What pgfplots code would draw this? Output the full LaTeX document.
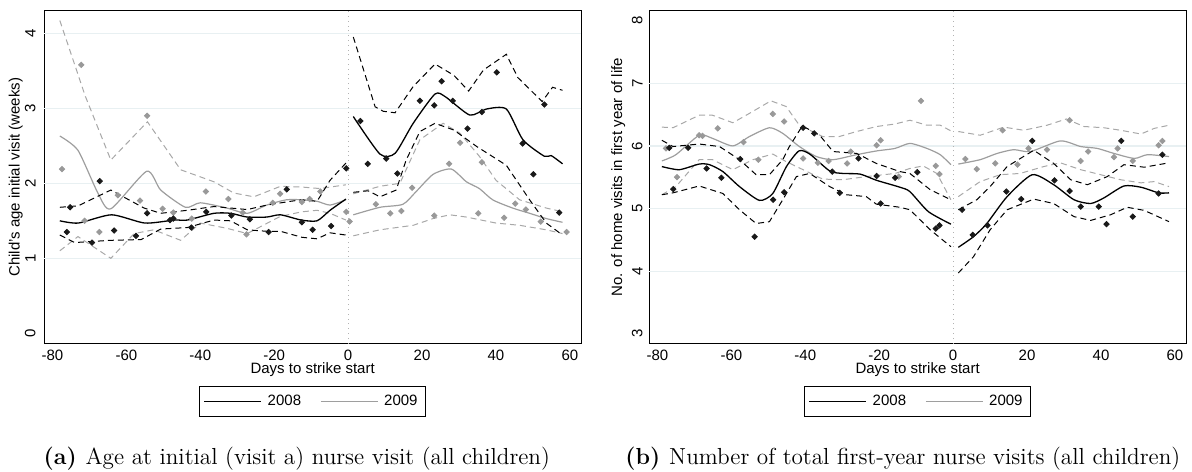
\documentclass[border=0pt]{standalone}
\usepackage{fontspec}
\setsansfont{Liberation Sans}
\usepackage{pgfplots}
\pgfplotsset{compat=1.18}

\definecolor{colpt08}{gray}{0.10}
\definecolor{colpt09}{gray}{0.60}
\definecolor{colfit09}{gray}{0.62}
\definecolor{colci09}{gray}{0.66}
\definecolor{gridc}{RGB}{232,240,242}

\pgfplotsset{
  panel/.style={
    scale only axis, width=268.35pt, height=166.15pt,
    xmin=-82.2, xmax=63,
    xtick={-80,-60,-40,-20,0,20,40,60},
    xticklabels={-80,-60,-40,-20,0,20,40,60},
    major tick length=0pt,
    axis line style={line width=0.5pt},
    tick label style={font=\sffamily\fontsize{7.5}{9}\selectfont},
    label style={font=\sffamily\fontsize{7.5}{9}\selectfont},
    yticklabel style={rotate=90, anchor=south},
    xlabel={Days to strike start},
    xlabel style={at={(axis description cs:0.5,0)}, anchor=center, yshift=-13pt},
    extra y tick style={grid=major, major grid style={gridc, line width=0.6pt}},
    legend columns=2,
    legend style={at={(0.5,-0.175)}, anchor=center, draw=black, line width=0.5pt,
      font=\sffamily\fontsize{7.5}{9}\selectfont, inner xsep=2pt, inner ysep=2pt,
      /tikz/column 1/.style={column sep=1pt},
      /tikz/column 2/.style={column sep=7.6pt},
      /tikz/column 3/.style={column sep=1pt}},
    legend image code/.code={\draw[#1] (0pt,0pt) -- (28.35pt,0pt);},
  },
  fit08/.style={black, line width=0.65pt, smooth, tension=0.4, forget plot},
  ci08/.style={black, line width=0.5pt, dash pattern=on 3pt off 2pt, forget plot},
  fit09/.style={colfit09, line width=0.6pt, smooth, tension=0.4, forget plot},
  ci09/.style={colci09, line width=0.5pt, dash pattern=on 3pt off 2pt, forget plot},
  pts08/.style={only marks, mark=square*, mark size=0.95pt, mark options={rotate=45}, colpt08, forget plot},
  pts09/.style={only marks, mark=square*, mark size=0.95pt, mark options={rotate=45}, colpt09, forget plot},
  zeroline/.style={gray!60, line width=0.4pt, dotted, forget plot},
}

\begin{document}
\begin{tikzpicture}
\path[use as bounding box] (0,0) rectangle (596pt,235.5pt);

% ---------------- Panel (a): age at initial visit ----------------
\begin{axis}[panel, at={(22.15pt,63.85pt)}, anchor=south west,
  ymin=-0.133, ymax=4.297, ytick={0,1,2,3,4}, yticklabels={0,1,2,3,4},
  yticklabel shift=0.8pt,
  extra y ticks={1,2,3,4}, extra y tick labels={},
  ylabel={Child's age initial visit (weeks)},
  ylabel style={at={(axis description cs:-0.0531,0.5)}, anchor=center}]
\addplot[zeroline] coordinates {(0,-0.133) (0,4.297)};
% 2009 confidence bands and fit
\addplot[ci09] coordinates {(-78,4.17) (-71.1,3.16) (-64.2,2.31) (-54.3,2.82) (-45.3,2.18) (-36.3,2.02) (-30.9,1.87) (-25.5,1.82) (-18.3,1.96) (-12.5,1.95) (-7.6,1.93) (-0.6,1.98)};
\addplot[ci09] coordinates {(1.4,1.86) (8.6,1.96) (14,2.00) (19.4,2.58) (25.7,2.80) (30.2,2.67) (35.5,2.36) (40,2.04) (46.4,1.78) (53.6,1.67) (58,1.62)};
\addplot[ci09] coordinates {(-78,1.10) (-73.1,1.29) (-64.2,1.00) (-57.9,1.33) (-52.6,1.38) (-45.3,1.24) (-40,1.47) (-32.8,1.40) (-27.3,1.33) (-18.3,1.56) (-12.5,1.62) (-8.4,1.64) (-4.9,1.60) (-0.6,1.51)};
\addplot[ci09] coordinates {(1.4,1.30) (8.6,1.38) (17.6,1.44) (23,1.53) (27.5,1.58) (32,1.55) (40,1.47) (46.4,1.44) (53.6,1.38) (58,1.33)};
\addplot[fit09] coordinates {(-78,2.63) (-73.1,2.44) (-67.7,1.87) (-64.2,1.66) (-54.5,2.16) (-50.7,1.91) (-44,1.68) (-40,1.74) (-32.8,1.67) (-27.3,1.60) (-22,1.71) (-16.7,1.78) (-12.5,1.78) (-8.4,1.76) (-4.9,1.71) (-0.6,1.78)};
\addplot[fit09] coordinates {(1.4,1.58) (8.6,1.68) (14.8,1.72) (18.4,1.89) (23,2.12) (27.9,2.19) (32,2.02) (35.5,1.93) (39.1,1.78) (44.5,1.67) (49.1,1.60) (53.6,1.53) (58,1.48)};
\addplot[pts09] coordinates {(-77.4,2.19) (-72.2,3.58) (-71.3,1.50) (-67.3,1.35) (-62.3,1.84) (-56.3,1.77) (-54.4,2.90) (-50.2,1.66) (-47.3,1.61) (-42.3,1.53) (-38.5,1.89) (-32.4,1.79) (-28.5,1.61) (-27.5,1.32) (-20.4,1.74) (-18.4,1.86) (-12.5,1.75) (-10.4,1.79) (-7.5,1.89) (-0.5,1.62) (0.4,1.49) (7.5,1.72) (11.4,1.60) (14.4,1.63) (17.3,1.94) (23.3,1.57) (27.3,2.26) (30.3,2.54) (35.2,1.60) (36.2,2.28) (42.2,1.54) (45.2,1.73) (48.1,1.65) (52.1,1.49) (59.1,1.35)};
% 2008 confidence bands and fit
\addplot[ci08] coordinates {(-78,1.68) (-73,1.70) (-64.2,1.91) (-55.2,1.67) (-50.7,1.60) (-43.5,1.64) (-36.3,1.69) (-31.8,1.67) (-27.3,1.65) (-22,1.71) (-15.6,1.76) (-12.5,1.78) (-8.4,1.76) (-4.9,2.04) (-0.6,2.27)};
\addplot[ci08] coordinates {(-78,1.31) (-74,1.21) (-64.2,1.24) (-56,1.25) (-50.7,1.39) (-43.5,1.41) (-36.3,1.51) (-31.8,1.50) (-27.3,1.38) (-22,1.36) (-18.3,1.36) (-12.5,1.28) (-8.4,1.26) (-4.9,1.34) (-0.6,1.31)};
\addplot[ci08] coordinates {(1.4,3.95) (7.3,3.02) (9.5,2.96) (12.7,2.94) (17.6,3.29) (23.5,3.59) (28.6,3.44) (32.6,3.23) (36.6,3.51) (42.8,3.72) (45.9,3.41) (52.5,3.09) (55.3,3.28) (58,3.24)};
\addplot[ci08] coordinates {(1.4,1.88) (5.4,1.90) (8.6,1.82) (13,1.91) (15.7,2.31) (19.4,2.69) (23.5,2.80) (28.6,2.71) (34.8,2.49) (42.8,2.24) (49.1,1.78) (53.6,1.47) (58,1.31)};
\addplot[fit08] coordinates {(-78,1.50) (-73,1.47) (-64,1.58) (-55,1.47) (-47,1.51) (-43.5,1.51) (-36.3,1.60) (-31.8,1.60) (-27.3,1.55) (-22,1.55) (-18.3,1.58) (-12.7,1.51) (-8.4,1.50) (-4.9,1.64) (-0.6,1.79)};
\addplot[fit08] coordinates {(1.4,2.89) (8.6,2.39) (12.7,2.40) (17.6,2.80) (23.5,3.19) (26.4,3.15) (32.9,2.91) (37.4,2.99) (42.8,2.99) (47.3,2.58) (53.1,2.36) (54.9,2.37) (58,2.26)};
\addplot[pts08] coordinates {(-76.1,1.35) (-75.2,1.68) (-69.3,1.21) (-67.2,2.03) (-63.3,1.37) (-57.4,1.30) (-54.4,1.60) (-48.2,1.51) (-47.3,1.53) (-42.4,1.41) (-38.4,1.62) (-31.6,1.57) (-26.6,1.52) (-21.5,1.35) (-16.6,1.92) (-12.5,1.48) (-9.6,1.38) (-4.6,1.43) (-0.5,2.20) (3.3,2.83) (5.3,2.26) (10.3,2.33) (13.3,2.13) (19.4,3.10) (23.3,3.04) (25.3,3.36) (28.3,3.10) (32.3,2.73) (36.2,2.95) (40.2,3.48) (47.2,2.53) (50.1,2.12) (53.1,3.05) (57.1,1.61)};
\addlegendimage{black, line width=0.65pt}\addlegendentry{2008}
\addlegendimage{colfit09, line width=0.6pt}\addlegendentry{2009}
\end{axis}

% ---------------- Panel (b): number of home visits ----------------
\begin{axis}[panel, at={(324.65pt,63.85pt)}, anchor=south west,
  ymin=2.847, ymax=8.155, ytick={3,4,5,6,7,8}, yticklabels={3,4,5,6,7,8},
  yticklabel shift=-0.2pt,
  extra y ticks={4,5,6,7}, extra y tick labels={},
  ylabel={No. of home visits in first year of life},
  ylabel style={at={(axis description cs:-0.0578,0.5)}, anchor=center}]
\addplot[zeroline] coordinates {(0,2.847) (0,8.155)};
% 2009 confidence bands and fit
\addplot[ci09] coordinates {(-78.8,6.30) (-75.8,6.29) (-68.7,6.49) (-65.1,6.49) (-59.6,6.37) (-55.1,6.52) (-49.3,6.72) (-45.2,6.63) (-41.6,6.33) (-35.3,6.15) (-30.8,6.15) (-26.1,6.23) (-20.7,6.31) (-15.7,6.35) (-11.7,6.41) (-7.1,6.33) (-3.5,6.33) (-0.6,6.24)};
\addplot[ci09] coordinates {(1.4,6.23) (7.3,6.17) (13.7,6.30) (19.1,6.25) (25.4,6.33) (30.6,6.43) (35.4,6.31) (40.8,6.29) (45.3,6.25) (50.8,6.19) (54.4,6.28) (58.4,6.33)};
\addplot[ci09] coordinates {(-78.8,5.22) (-75,5.35) (-68.7,5.78) (-65.1,5.78) (-59.6,5.62) (-54.2,5.78) (-48.8,5.87) (-45.2,5.75) (-40.6,5.62) (-35.3,5.47) (-29.8,5.46) (-23.5,5.51) (-15.7,5.56) (-11.7,5.64) (-8.1,5.68) (-4.4,5.56) (-0.6,5.14)};
\addplot[ci09] coordinates {(1.4,5.19) (7.3,5.43) (12.7,5.54) (18.1,5.56) (24.5,5.67) (29,5.73) (34.5,5.62) (39.9,5.54) (45.3,5.46) (50.8,5.41) (54.4,5.43) (58.4,5.35)};
\addplot[fit09] coordinates {(-78.8,5.76) (-75,5.86) (-68.7,6.17) (-65.1,6.12) (-59.6,6.00) (-55.1,6.15) (-49.7,6.29) (-46.1,6.20) (-41.6,5.99) (-37,5.83) (-32.5,5.78) (-26.1,5.86) (-20.7,5.92) (-15.7,5.96) (-11.7,6.04) (-7.1,5.96) (-3.5,5.86) (-0.6,5.70)};
\addplot[fit09] coordinates {(1.4,5.71) (7.3,5.78) (11.9,5.88) (16.4,5.94) (20.9,5.91) (29,6.08) (34.5,5.99) (39,5.96) (43.5,5.88) (49,5.80) (52.6,5.86) (58.4,5.83)};
\addplot[pts09] coordinates {(-77.7,5.96) (-74.7,5.50) (-68.7,6.17) (-67.8,6.16) (-63.7,6.28) (-56.7,6.06) (-52.7,5.78) (-48.8,6.51) (-45.7,6.39) (-40.6,5.80) (-36.6,5.73) (-33.7,5.76) (-28.7,5.72) (-27.7,5.91) (-20.7,6.01) (-19.6,6.09) (-14.7,5.51) (-8.7,6.72) (-4.7,5.68) (-3.7,5.55) (3.3,5.79) (6.4,5.63) (11.4,5.72) (13.4,6.25) (17.4,5.70) (20.4,5.96) (25.4,5.94) (31.5,6.41) (34.5,5.76) (36.5,5.91) (43.5,5.82) (44.5,5.96) (48.6,5.76) (55.6,6.01) (56.6,6.08)};
% 2008 confidence bands and fit
\addplot[ci08] coordinates {(-78.8,6.09) (-75.8,5.99) (-68.7,6.03) (-63.2,5.99) (-57.8,5.78) (-53.3,5.54) (-49.7,5.54) (-46.1,5.78) (-44.3,5.99) (-40.8,6.32) (-36.1,6.17) (-32.5,5.91) (-26.1,5.88) (-20.8,5.72) (-14.4,5.59) (-11.7,5.56) (-6.2,5.30) (-0.6,5.14)};
\addplot[ci08] coordinates {(-78.8,5.22) (-75.8,5.25) (-68.7,5.36) (-62.3,5.24) (-57.8,4.98) (-53.3,4.76) (-49.7,4.79) (-46.1,5.14) (-42.4,5.51) (-38.8,5.56) (-33.4,5.35) (-28.9,5.22) (-23.5,5.19) (-20.8,5.07) (-14.4,5.02) (-11.7,4.98) (-6.2,4.66) (-0.6,4.39)};
\addplot[ci08] coordinates {(1.4,4.98) (6.4,5.14) (10,5.35) (14.6,5.67) (21.8,5.93) (27.2,5.72) (31.8,5.46) (36.3,5.38) (41.7,5.51) (46.2,5.70) (51.7,5.66) (58.4,5.73)};
\addplot[ci08] coordinates {(1.4,3.97) (5.5,4.23) (10,4.66) (14.6,4.98) (21.8,5.15) (27.2,5.08) (32.7,4.87) (37.2,4.81) (42.6,4.90) (47.1,5.02) (51.7,4.97) (58.4,4.79)};
\addplot[fit08] coordinates {(-78.8,5.67) (-74.1,5.62) (-68.7,5.71) (-65.9,5.70) (-62.3,5.59) (-57.8,5.35) (-52.4,5.13) (-48.8,5.24) (-45.1,5.67) (-41.7,5.92) (-38.8,5.87) (-33.4,5.60) (-29.8,5.56) (-25.2,5.55) (-20.7,5.45) (-14.4,5.34) (-11.7,5.27) (-6.7,4.95) (-0.6,4.75)};
\addplot[fit08] coordinates {(1.4,4.38) (5.5,4.55) (9.1,4.76) (14.6,5.19) (21.4,5.54) (27.2,5.38) (32.7,5.14) (37.2,5.08) (40.8,5.17) (46.2,5.36) (50.8,5.34) (55.6,5.25) (58.4,5.25)};
\addplot[pts08] coordinates {(-76.8,5.97) (-75.7,5.31) (-71.7,5.97) (-66.7,5.64) (-62.7,5.49) (-57.6,5.79) (-53.7,4.55) (-48.7,5.14) (-45.7,5.26) (-40.6,6.29) (-37.6,6.20) (-32.7,5.59) (-30.7,5.25) (-25.6,5.80) (-20.7,5.52) (-19.6,5.08) (-15.7,5.49) (-9.7,5.58) (-4.7,4.68) (-3.7,4.73) (2.4,4.98) (5.3,4.58) (9.3,4.73) (14.4,5.27) (18.4,5.15) (21.4,6.08) (27.4,5.45) (31.5,5.28) (34.5,5.03) (39.4,5.03) (41.5,4.75) (45.5,6.08) (48.6,4.87) (55.6,5.24) (56.6,5.86)};
\addlegendimage{black, line width=0.65pt}\addlegendentry{2008}
\addlegendimage{colfit09, line width=0.6pt}\addlegendentry{2009}
\end{axis}

% sub-figure captions
\node[anchor=west, inner sep=0pt, font=\rmfamily\fontsize{11.6}{13.5}\selectfont] at (21.65pt,6.35pt)
  {\textbf{(a)}\hspace{4.5pt}Age at initial (visit a) nurse visit (all children)};
\node[anchor=west, inner sep=0pt, font=\rmfamily\fontsize{11.6}{13.5}\selectfont] at (312.5pt,6.35pt)
  {\textbf{(b)}\hspace{4.5pt}Number of total first-year nurse visits (all children)};
\end{tikzpicture}
\end{document}
